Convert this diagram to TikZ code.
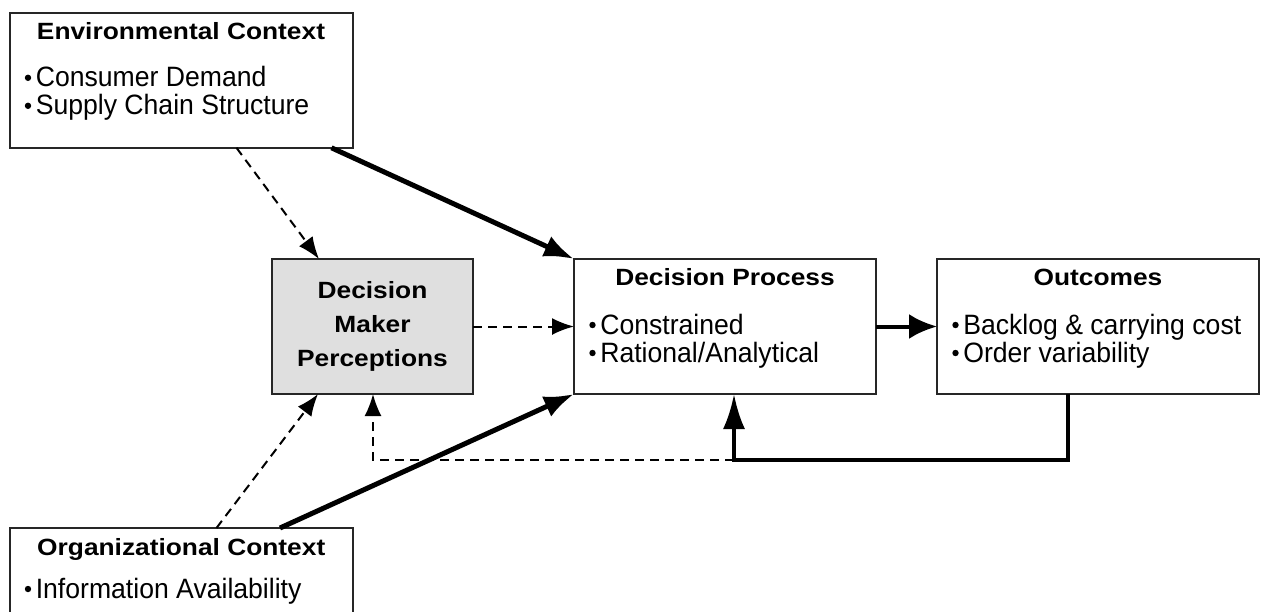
\documentclass[tikz,border=0pt]{standalone}
\usepackage{fontspec}
\setmainfont{Liberation Sans}
\newfontfamily\titlef{Liberation Sans}[FakeStretch=1.12]
\newfontfamily\bodyf{Liberation Sans}[FakeStretch=0.95]
\usetikzlibrary{arrows.meta,calc}
\newcommand\bul{\tikz[baseline=0pt]\fill (0pt,9pt) circle (3.2pt);\hspace{4.6pt}}
\tikzset{
  box/.style={draw=black!85, line width=2pt, inner sep=0pt, outer sep=0pt, rectangle, anchor=north west},
  ttl/.style={font=\titlef\bfseries\fontsize{23.5pt}{28pt}\selectfont, anchor=base, inner sep=0pt},
  itm/.style={font=\bodyf\fontsize{28pt}{28pt}\selectfont, anchor=base west, inner sep=0pt},
  thickarr/.style={line width=5pt, -{Latex[length=30pt,width=22pt]}},
  dasharr/.style={line width=2pt, dash pattern=on 9pt off 6pt, -{Latex[length=22pt,width=17pt]}},
}
\begin{document}
\begin{tikzpicture}[x=1pt,y=-1pt]
\fill[white] (0,0) rectangle (1261,611);
\useasboundingbox (0,0) rectangle (1261,611);
% boxes
\node[box, minimum width=343pt, minimum height=134.5pt] (env) at (9.5,13.3) {};
\node[box, fill=gray!25, minimum width=201pt, minimum height=135pt, align=center,
      font=\titlef\bfseries\fontsize{23.5pt}{34pt}\selectfont] (dmp) at (272,259) {Decision\\Maker\\Perceptions};
\node[box, minimum width=302pt, minimum height=135pt] (dp) at (574,259) {};
\node[box, minimum width=322pt, minimum height=135pt] (out) at (937,259) {};
\node[box, minimum width=343.5pt, minimum height=120pt] (org) at (9.5,528) {};
% texts
\node[ttl] (envt) at ([shift={(0,26)}]env.north) {Environmental Context};
\node[itm] (env1) at ([shift={(15.1,73.5)}]env.north west) {\bul Consumer Demand};
\node[itm] (env2) at ([shift={(15.1,101.5)}]env.north west) {\bul Supply Chain Structure};
\node[ttl] (dpt) at ([shift={(0,26)}]dp.north) {Decision Process};
\node[itm] (dp1) at ([shift={(15.1,75)}]dp.north west) {\bul Constrained};
\node[itm] (dp2) at ([shift={(15.1,103)}]dp.north west) {\bul Rational/Analytical};
\node[ttl] (outt) at ([shift={(0,26)}]out.north) {Outcomes};
\node[itm] (out1) at ([shift={(15.1,75)}]out.north west) {\bul Backlog \& carrying cost};
\node[itm] (out2) at ([shift={(15.1,103)}]out.north west) {\bul Order variability};
\node[ttl] (orgt) at ([shift={(0,27)}]org.north) {Organizational Context};
\node[itm] (org1) at ([shift={(15.1,70)}]org.north west) {\bul Information Availability};
% connectors
\draw[thickarr] ([shift={(322,0)}]env.south west) -- (dp.north west);
\draw[dasharr] ([shift={(227,0)}]env.south west) -- ([shift={(47,0)}]dmp.north west);
\draw[dasharr] (dmp.east) -- (dmp.east -| dp.west);
\draw[line width=4pt, -{Latex[length=28pt,width=25pt]}] (dp.east) -- (dp.east -| out.west);
\draw[dasharr] ([shift={(207,0)}]org.north west) -- ([shift={(46,0)}]dmp.south west);
\draw[thickarr] ([shift={(270.5,0)}]org.north west) -- (dp.south west);
\coordinate (fbj) at (734,460);
\draw[line width=4pt, -{Latex[length=35pt,width=22pt]}] ([shift={(131,0)}]out.south west) |- (fbj) -- (dp.south -| fbj);
\draw[dasharr] (fbj) -| ([shift={(101,0)}]dmp.south west);
\end{tikzpicture}
\end{document}
